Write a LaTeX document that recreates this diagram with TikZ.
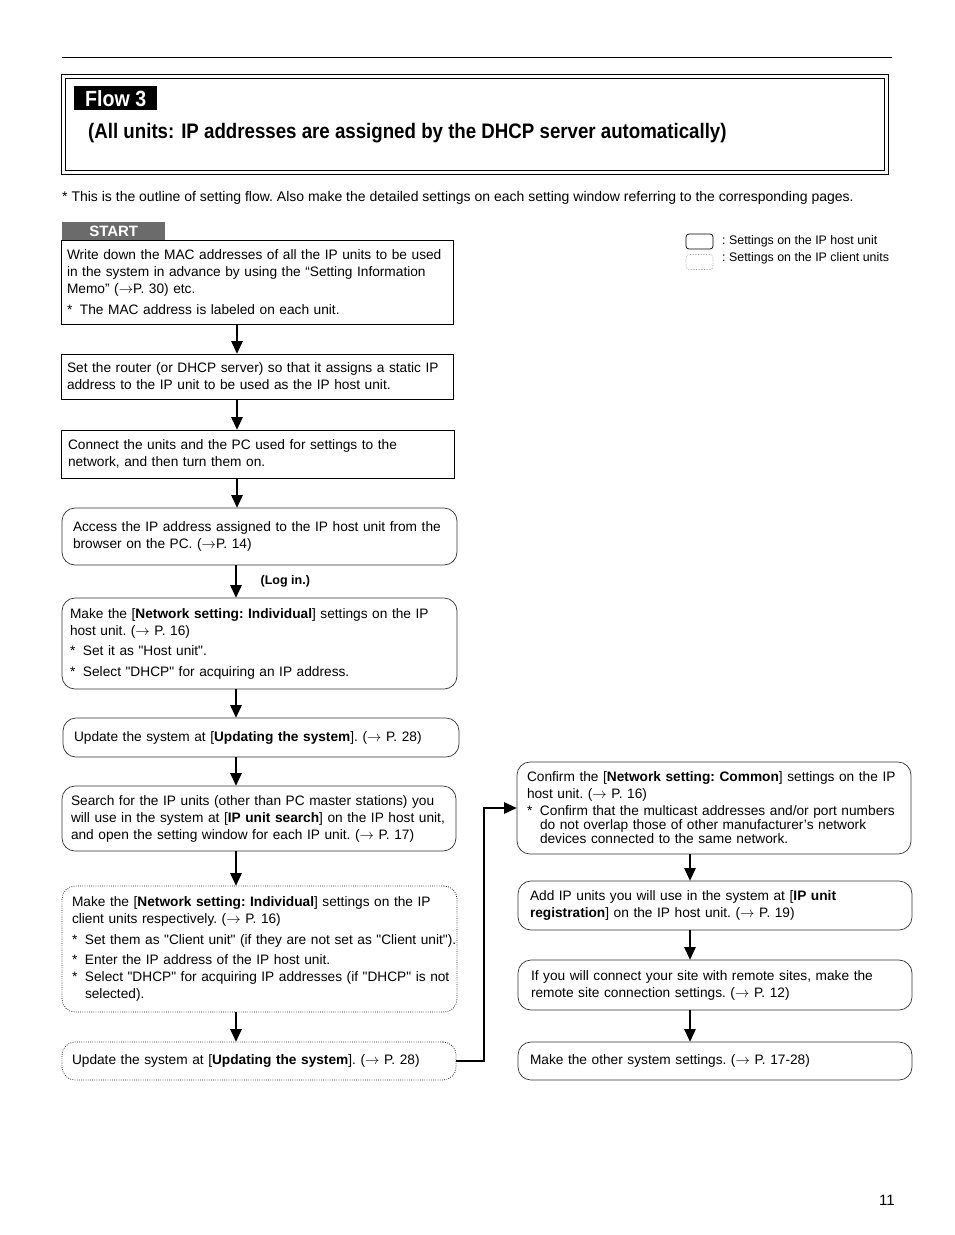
\documentclass[tikz,border=0pt]{standalone}
\usepackage{fontspec}
\setmainfont{Liberation Sans}
\newfontfamily\condfont[FakeStretch=0.89]{Liberation Sans}
\usetikzlibrary{arrows.meta}
\setlength{\parindent}{0pt}

\newcommand{\bodytext}{\fontsize{13.7}{17}\selectfont\frenchspacing}
\newcommand{\legendtext}{\fontsize{12.4}{14}\selectfont\frenchspacing}
\newcommand{\dq}[1]{\textquotedbl#1\textquotedbl}
\newcommand{\rarr}{\ensuremath{\rightarrow}}
% note line with a hanging star
\newcommand{\astnote}[1]{\par\vspace{3.5pt}\hangindent=13pt\hangafter=1\makebox[13pt][l]{*}#1}

\tikzset{
  stepbox/.style={draw=black, line width=0.8pt, anchor=north west, inner xsep=0pt,
    inner ysep=1pt, outer sep=0pt, font=\bodytext, align=left},
  boxdim/.style n args={3}{text width=#1, minimum height=#2,
    execute at begin node={\leftskip=#3pt\relax\rightskip=-8pt plus 2em\relax}},
  hostbox/.style={stepbox, draw=black!80, line width=0.7pt, rounded corners=13pt},
  clientbox/.style={hostbox, draw=black!85, line width=0.8pt, dash pattern=on 0.8pt off 1.4pt},
  flowarrow/.style={line width=2.7pt, -{Triangle[width=11pt,length=13pt]}},
  legendbox/.style={minimum width=27, minimum height=15, inner sep=0pt, rounded corners=3pt}
}

\begin{document}
\begin{tikzpicture}[x=1pt, y=-1pt]
  \useasboundingbox (0,0) rectangle (954,1235);

  % heading
  \draw[line width=0.8pt] (62,57) -- (892,57);
  \draw[line width=0.8pt] (61,74) rectangle (888,174);
  \draw[line width=0.8pt] (65,78) rectangle (884,170);
  \node[fill=black, text=white, font=\condfont\bfseries\fontsize{22}{22}\selectfont,
    minimum width=83, minimum height=24, anchor=north west, inner sep=0pt] (flowtag) at (74,86) {Flow 3};
  \node[anchor=west, inner sep=0pt, font=\condfont\bfseries\fontsize{21}{22}\selectfont] (flowtitle) at (88,133)
    {(All units: IP addresses are assigned by the DHCP server automatically)};
  \node[anchor=west, inner sep=0pt, font=\fontsize{14}{17}\selectfont\frenchspacing] (outline) at (62,198)
    {* This is the outline of setting flow. Also make the detailed settings on each setting window referring to the corresponding pages.};

  % legend
  \node[legendbox, draw=black, line width=0.7pt] (lghost) at (699.5,241.5) {};
  \node[legendbox, draw=black!40, line width=0.6pt, dash pattern=on 0.6pt off 1pt] (lgclient) at (699.5,262) {};
  \node[anchor=west, inner sep=0pt, font=\legendtext] (lghosttext) at (722,241) {: Settings on the IP host unit};
  \node[anchor=west, inner sep=0pt, font=\legendtext] (lgclienttext) at (722,258) {: Settings on the IP client units};

  % left column
  \node[fill=black!58, text=white, font=\bfseries\fontsize{15}{15}\selectfont,
    minimum width=103, minimum height=18, anchor=south west, inner sep=0pt] (start) at (62,240.5) {START};
  \node[stepbox, boxdim={392}{84}{6}] (mac) at (61,240)
    {Write down the MAC addresses of all the IP units to be used\\ in the system in advance by using the “Setting Information\\ Memo” (\rarr P. 30) etc.\astnote{The MAC address is labeled on each unit.}};
  \node[stepbox, boxdim={392}{45}{6}] (router) at (61,354)
    {Set the router (or DHCP server) so that it assigns a static IP\\ address to the IP unit to be used as the IP host unit.};
  \node[stepbox, boxdim={393}{48}{7}] (connect) at (61,430)
    {Connect the units and the PC used for settings to the\\ network, and then turn them on.};
  \node[hostbox, boxdim={395}{57}{11}] (access) at (62,508)
    {Access the IP address assigned to the IP host unit from the\\ browser on the PC. (\rarr P. 14)};
  \node[hostbox, boxdim={395}{91}{8}] (hostset) at (62,598)
    {Make the [\textbf{Network setting: Individual}] settings on the IP\\ host unit. (\rarr\ P. 16)\astnote{Set it as \dq{Host unit}.}\astnote{Select \dq{DHCP} for acquiring an IP address.}};
  \node[hostbox, boxdim={396}{39}{11}] (upd1) at (63,718)
    {Update the system at [\textbf{Updating the system}]. (\rarr\ P. 28)};
  \node[hostbox, boxdim={394}{65}{9}] (search) at (62,786)
    {Search for the IP units (other than PC master stations) you\\ will use in the system at [\textbf{IP unit search}] on the IP host unit,\\ and open the setting window for each IP unit. (\rarr\ P. 17)};
  \node[clientbox, boxdim={395}{126}{10}] (clientset) at (62,886)
    {Make the [\textbf{Network setting: Individual}] settings on the IP\\ client units respectively. (\rarr\ P. 16)\astnote{Set them as \dq{Client unit} (if they are not set as \dq{Client unit}).}\astnote{Enter the IP address of the IP host unit.}\par\hangindent=13pt\hangafter=1\makebox[13pt][l]{*}Select \dq{DHCP} for acquiring IP addresses (if \dq{DHCP} is not\newline selected).\par};
  \node[clientbox, boxdim={394}{38}{10}] (upd2) at (62,1042)
    {Update the system at [\textbf{Updating the system}]. (\rarr\ P. 28)};

  % right column
  \node[hostbox, boxdim={394}{92}{10}] (common) at (517,762)
    {Confirm the [\textbf{Network setting: Common}] settings on the IP\\ host unit. (\rarr\ P. 16)\par\vspace{3pt}{\fontsize{13.7}{14}\selectfont\hangindent=13pt\hangafter=1\makebox[13pt][l]{*}Confirm that the multicast addresses and/or port numbers\newline do not overlap those of other manufacturer’s network\newline devices connected to the same network.\par}\vspace{3pt}};
  \node[hostbox, boxdim={394}{49}{12}] (register) at (518,881)
    {Add IP units you will use in the system at [\textbf{IP unit}\\ \textbf{registration}] on the IP host unit. (\rarr\ P. 19)};
  \node[hostbox, boxdim={394}{50}{13}] (remote) at (518,960)
    {If you will connect your site with remote sites, make the\\ remote site connection settings. (\rarr\ P. 12)};
  \node[hostbox, boxdim={394}{38}{12}] (other) at (518,1042)
    {Make the other system settings. (\rarr\ P. 17-28)};

  % connectors
  \coordinate (lx) at (237,0);
  \coordinate (mx) at (236,0);
  \coordinate (rx) at (690,0);
  \coordinate (jog) at (484,0);
  \draw[flowarrow] (mac.south -| lx) -- (router.north -| lx);
  \draw[flowarrow] (router.south -| lx) -- (connect.north -| lx);
  \draw[flowarrow] (connect.south -| lx) -- (access.north -| lx);
  \draw[flowarrow] (access.south -| mx) -- (hostset.north -| mx)
    node[midway, right=20pt, font=\bfseries\fontsize{12.5}{14}\selectfont] (login) {(Log in.)};
  \draw[flowarrow] (hostset.south -| mx) -- (upd1.north -| mx);
  \draw[flowarrow] (upd1.south -| mx) -- (search.north -| mx);
  \draw[flowarrow] (search.south -| mx) -- (clientset.north -| mx);
  \draw[flowarrow] (clientset.south -| mx) -- (upd2.north -| mx);
  \draw[flowarrow] (upd2.east) -- (upd2.east -| jog) |- (common.west);
  \draw[flowarrow] (common.south -| rx) -- (register.north -| rx);
  \draw[flowarrow] (register.south -| rx) -- (remote.north -| rx);
  \draw[flowarrow] (remote.south -| rx) -- (other.north -| rx);

  % page number
  \node[font=\fontsize{15}{16}\selectfont, inner sep=0pt] (pagenum) at (887,1200) {11};
\end{tikzpicture}
\end{document}
